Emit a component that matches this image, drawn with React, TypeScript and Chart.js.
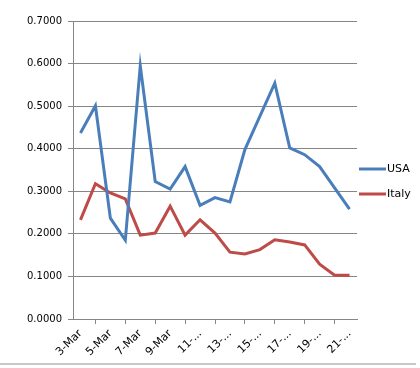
import React, { useEffect, useRef } from "react";
import { Chart, registerables } from "chart.js";

Chart.register(...registerables);

const categories = [
  "3-Mar", "4-Mar", "5-Mar", "6-Mar", "7-Mar", "8-Mar", "9-Mar", "10-Mar",
  "11-Mar", "12-Mar", "13-Mar", "14-Mar", "15-Mar", "16-Mar", "17-Mar",
  "18-Mar", "19-Mar", "20-Mar", "21-Mar",
];

const usaValues = [
  0.437, 0.501, 0.237, 0.185, 0.595, 0.323, 0.305, 0.358, 0.267, 0.285,
  0.275, 0.398, 0.476, 0.554, 0.402, 0.386, 0.358, 0.308, 0.258,
];

const italyValues = [
  0.233, 0.318, 0.296, 0.282, 0.197, 0.202, 0.265, 0.197, 0.233, 0.202,
  0.157, 0.153, 0.163, 0.186, 0.181, 0.174, 0.129, 0.103, 0.103,
];

const seriesNames = ["USA", "Italy"];
const seriesColors = ["#4A7EBB", "#BE4B48"];

const FONT = "'DejaVu Sans', sans-serif";

function shortLabel(s: string): string {
  return s.length > 5 ? s.slice(0, 3) + "..." : s;
}

export default function App() {
  const ref = useRef<HTMLCanvasElement | null>(null);

  useEffect(() => {
    if (!ref.current) return;
    const legendPlugin = {
      id: "customLegend",
      afterDraw(chart: any) {
        const ctx = chart.ctx;
        ctx.save();
        const items = chart.data.datasets;
        items.forEach((ds: any, i: number) => {
          const y = 169 + i * 25;
          ctx.strokeStyle = ds.borderColor;
          ctx.lineWidth = 3;
          ctx.beginPath();
          ctx.moveTo(359, y);
          ctx.lineTo(386, y);
          ctx.stroke();
          ctx.fillStyle = "#000";
          ctx.font = `11px ${FONT}`;
          ctx.textBaseline = "middle";
          ctx.textAlign = "left";
          ctx.fillText(ds.label, 387, y);
        });
        ctx.strokeStyle = "#c8c8c8";
        ctx.lineWidth = 2;
        ctx.beginPath();
        ctx.moveTo(0, 364);
        ctx.lineTo(416, 364);
        ctx.stroke();
        ctx.restore();
      },
    };

    const chart = new Chart(ref.current, {
      type: "line",
      data: {
        labels: categories,
        datasets: [
          {
            label: seriesNames[0],
            data: usaValues,
            borderColor: seriesColors[0],
            backgroundColor: seriesColors[0],
            borderWidth: 3,
            pointRadius: 0,
            tension: 0,
          },
          {
            label: seriesNames[1],
            data: italyValues,
            borderColor: seriesColors[1],
            backgroundColor: seriesColors[1],
            borderWidth: 3,
            pointRadius: 0,
            tension: 0,
          },
        ],
      },
      options: {
        animation: false,
        responsive: false,
        layout: { padding: { left: 0, top: 21, right: 63, bottom: 0 } },
        plugins: {
          legend: { display: false },
          tooltip: { enabled: false },
        },
        scales: {
          x: {
            offset: true,
            grid: {
              offset: true,
              drawOnChartArea: false,
              drawTicks: true,
              tickLength: 5,
              color: "#868686",
            },
            border: { color: "#868686", width: 1 },
            ticks: {
              autoSkip: false,
              minRotation: 45,
              maxRotation: 45,
              color: "#000",
              font: { family: FONT, size: 11 },
              padding: 3,
              callback: (_v: any, i: number) =>
                i % 2 === 0 ? shortLabel(categories[i]) : null,
            },
            afterFit: (s: any) => {
              s.height = 49;
            },
          },
          y: {
            min: 0,
            max: 0.7,
            grid: {
              color: "#868686",
              tickLength: 5,
            },
            border: { color: "#868686", width: 1 },
            ticks: {
              stepSize: 0.1,
              color: "#000",
              font: { family: FONT, size: 10 },
              padding: 6,
              callback: (v: any) => Number(v).toFixed(4),
            },
            afterFit: (s: any) => {
              s.width = 73;
            },
          },
        },
      },
      plugins: [legendPlugin],
    });
    return () => chart.destroy();
  }, []);

  return (
    <div style={{ position: "absolute", left: 0, top: 0, width: 420, height: 368, background: "#fff" }}>
      <canvas ref={ref} width={420} height={368} style={{ width: 420, height: 368 }} />
    </div>
  );
}
